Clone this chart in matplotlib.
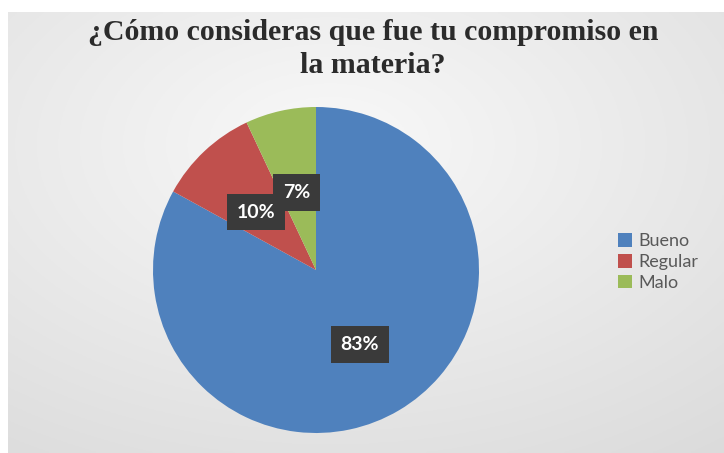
import numpy as np
import matplotlib.pyplot as plt

# Datos de la encuesta
categorias = ["Bueno", "Regular", "Malo"]
porcentajes = [83, 10, 7]
colores = ["#4F81BD", "#C0504D", "#9BBB59"]
titulo = "¿Cómo consideras que fue tu compromiso en\nla materia?"

W, H = 724, 453
fig = plt.figure(figsize=(W / 100, H / 100), dpi=100)
fig.patch.set_facecolor("white")

# Fondo gris con degradado (como el gráfico de Excel)
bg = fig.add_axes([8 / W, 0, 1 - 8 / W, 1 - 12 / H])
yy, xx = np.mgrid[0:1:200j, 0:1:300j]
grad = np.sqrt((xx - 0.45) ** 2 + (yy - 0.3) ** 2)
gris = np.clip(0.975 - 0.13 * grad, 0, 1)
bg.imshow(np.dstack([gris, gris, gris]), aspect="auto",
          extent=[0, 1, 0, 1], origin="upper")
bg.set_axis_off()

# Pastel
cx, cy, r = 316, 270, 163
ax = fig.add_axes([(cx - r) / W, (H - cy - r) / H, 2 * r / W, 2 * r / H])
wedges, texts, autotexts = ax.pie(
    porcentajes, colors=colores, startangle=90, counterclock=False,
    autopct="%d%%", pctdistance=0.53, radius=1.0,
    wedgeprops=dict(linewidth=0),
    textprops=dict(color="white", fontsize=14, fontweight="bold", family="Lato"))
ax.set_xlim(-1, 1)
ax.set_ylim(-1, 1)
ax.set_aspect("auto")

for t in autotexts:
    t.set_bbox(dict(facecolor="#3a3a3a", edgecolor="none", boxstyle="square,pad=0.5"))

# Excel desplaza las etiquetas pequeñas para evitar solapamiento
ang = np.deg2rad(104)
autotexts[2].set_position((0.49 * np.cos(ang), 0.49 * np.sin(ang)))
ang = np.deg2rad(136)
autotexts[1].set_position((0.51 * np.cos(ang), 0.51 * np.sin(ang)))

fig.text(373 / W, 1 - 49 / H, titulo, ha="center", va="center",
         fontsize=21.5, fontweight="bold", family="Liberation Serif",
         color="#2b2b2b", linespacing=1.3)

leg = fig.legend(wedges, categorias, loc="center left",
                 bbox_to_anchor=(618 / W, 1 - 262 / H), frameon=False,
                 prop=dict(family="Lato", size=13), labelcolor="#595959",
                 handlelength=0.8, handleheight=0.8, handletextpad=0.35,
                 labelspacing=0.25, borderaxespad=0, borderpad=0)

fig.savefig("out.png", dpi=100, facecolor=fig.get_facecolor())
